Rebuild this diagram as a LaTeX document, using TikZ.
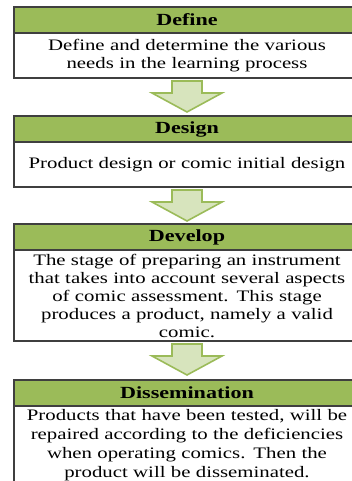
\documentclass[tikz,border=0pt]{standalone}
\usepackage{fontspec}
\setmainfont{Liberation Serif}[FakeStretch=1.3]
\newfontfamily\headfont{Liberation Serif Bold}[FakeStretch=1.3]
\usetikzlibrary{positioning, calc}
\definecolor{stagegreen}{HTML}{9BBB59}
\definecolor{stageink}{HTML}{3F3F3F}
\definecolor{arrowfill}{HTML}{D7E4BD}
\tikzset{
  % header strip and text field of one stage
  stagehead/.style={draw=stageink, fill=stagegreen, line width=1.2pt,
                    minimum width=346pt, minimum height=26pt, inner sep=0pt,
                    outer sep=0pt, font=\fontsize{17}{18}\selectfont\headfont},
  stagebody/.style={draw=stageink, fill=white, line width=1.2pt,
                    minimum width=346pt, inner sep=0pt, outer sep=0pt,
                    align=center, text width=344pt,
                    font=\fontsize{16}{18}\selectfont},
  flowarrow/.style={draw=stagegreen, line width=1.6pt, fill=arrowfill,
                    line join=miter},
}

\begin{document}
\begin{tikzpicture}[node distance=0pt]
\useasboundingbox (0,0) rectangle (352pt,481pt);
\clip (0,0) rectangle (352pt,481pt);

% stage 1
\node[stagehead, anchor=north west] (h1) at (14pt,474pt) {Define};
\node[stagebody, minimum height=45pt, below=of h1] (b1)
   {Define and determine the various\\ needs in the learning process};

% stage 2
\node[stagehead, below=38pt of b1] (h2) {Design};
\node[stagebody, minimum height=45pt, below=of h2] (b2)
   {Product design or comic initial design};

% stage 3
\node[stagehead, below=37pt of b2] (h3) {Develop};
\node[stagebody, minimum height=91pt, below=of h3] (b3)
   {The stage of preparing an instrument\\ that takes into account several aspects\\
    of comic assessment. This stage\\ produces a product, namely a valid\\ comic.};

% stage 4
\node[stagehead, below=39pt of b3] (h4) {Dissemination};
\node[stagebody, minimum height=78pt, below=of h4,
      font=\fontsize{16}{19}\selectfont] (b4)
   {Products that have been tested, will be\\ repaired according to the deficiencies\\
    when operating comics. Then the\\ product will be disseminated.};

% block arrows between the stages
\foreach \a/\b in {b1/h2, b2/h3, b3/h4}
  \draw[flowarrow] ($(\a.south)+(-15pt,-3pt)$) -- ++(30pt,0) -- ++(0,-12pt)
     -- ++(20pt,0) -- ($(\a.south)+(0,-34pt)$) -- ($(\a.south)+(-35pt,-15pt)$)
     -- ++(20pt,0) -- cycle;

\end{tikzpicture}
\end{document}
